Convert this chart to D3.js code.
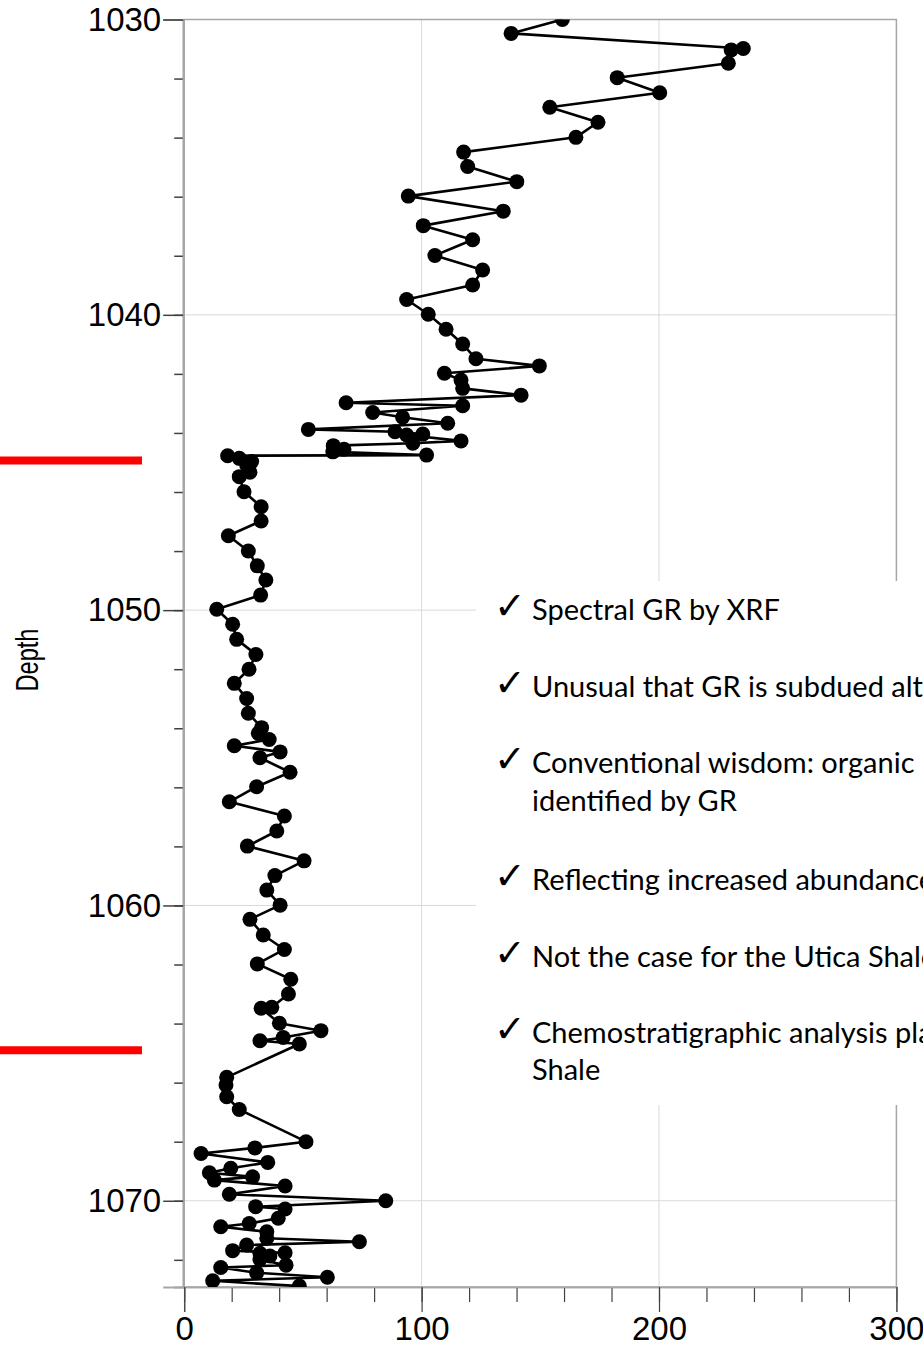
<!DOCTYPE html>
<html>
<head>
<meta charset="utf-8">
<script src="https://cdn.jsdelivr.net/npm/d3@7/dist/d3.min.js"></script>
<style>
  html, body { margin: 0; padding: 0; background: #fff; overflow: hidden; }
  svg { display: block; }
</style>
</head>
<body>
<svg id="chart" width="923" height="1347"></svg>
<script>
// Spectral gamma ray (XRF) versus core depth
const depth = [
  1030.00, 1030.47, 1030.98, 1031.03, 1031.48, 1031.97, 1032.48, 1032.97, 1033.48, 1033.99,
  1034.49, 1034.98, 1035.49, 1035.98, 1036.49, 1036.98, 1037.46, 1037.99, 1038.48, 1038.99,
  1039.48, 1039.98, 1040.49, 1040.99, 1041.49, 1041.73, 1041.98, 1042.21, 1042.49, 1042.72,
  1042.98, 1043.08, 1043.31, 1043.47, 1043.67, 1043.88, 1043.96, 1044.04, 1044.07, 1044.27,
  1044.35, 1044.43, 1044.55, 1044.64, 1044.75, 1044.77, 1044.86, 1044.97, 1045.08, 1045.33,
  1045.48, 1045.99, 1046.50, 1046.98, 1047.48, 1048.00, 1048.50, 1048.98, 1049.49, 1049.97,
  1050.48, 1050.99, 1051.50, 1052.00, 1052.48, 1052.99, 1053.49, 1053.98, 1054.17, 1054.38,
  1054.59, 1054.80, 1055.00, 1055.49, 1055.98, 1056.49, 1056.97, 1057.48, 1057.99, 1058.49,
  1058.99, 1059.48, 1059.99, 1060.47, 1061.00, 1061.49, 1061.98, 1062.50, 1063.00, 1063.45,
  1063.48, 1063.99, 1064.24, 1064.47, 1064.58, 1064.69, 1065.82, 1066.08, 1066.48, 1066.91,
  1068.00, 1068.21, 1068.40, 1068.70, 1068.90, 1069.05, 1069.19, 1069.30, 1069.50, 1069.78,
  1070.00, 1070.20, 1070.28, 1070.59, 1070.77, 1070.88, 1071.05, 1071.27, 1071.39, 1071.50,
  1071.69, 1071.76, 1071.78, 1071.87, 1071.99, 1072.18, 1072.26, 1072.44, 1072.59, 1072.71,
  1072.89
];
const gr = [
  159.3, 137.7, 235.5, 230.4, 229.2, 182.4, 200.3, 154.0, 174.3, 165.0,
  117.7, 119.4, 140.1, 94.4, 134.4, 100.7, 121.5, 105.6, 125.7, 121.5,
  93.7, 102.8, 110.3, 117.3, 122.9, 149.6, 109.6, 116.6, 117.3, 141.9,
  68.2, 117.3, 79.4, 92.0, 111.0, 52.3, 88.8, 100.5, 93.7, 116.6,
  96.3, 62.8, 67.3, 62.6, 102.1, 18.3, 23.2, 28.4, 26.3, 27.7,
  23.2, 25.2, 32.4, 32.4, 18.6, 27.0, 30.8, 34.4, 32.2, 13.7,
  20.4, 22.1, 30.2, 27.3, 21.1, 26.3, 27.0, 32.6, 31.2, 35.8,
  21.1, 40.4, 31.9, 44.6, 30.5, 19.0, 42.2, 39.0, 26.6, 50.5,
  38.2, 34.8, 40.4, 27.7, 33.3, 42.2, 30.8, 44.9, 43.9, 36.9,
  32.4, 40.1, 57.6, 41.7, 31.9, 48.5, 17.9, 17.6, 17.9, 23.2,
  51.3, 29.8, 7.1, 35.2, 19.6, 10.6, 28.8, 12.7, 42.5, 19.0,
  84.9, 30.1, 42.5, 39.6, 27.4, 15.4, 34.8, 34.8, 73.8, 26.3,
  20.4, 42.5, 31.9, 36.1, 31.9, 42.9, 15.4, 30.5, 60.3, 12.0,
  48.5
];

// Formation boundaries marked at the left margin
const boundaries = [1044.93, 1064.90];

// Axis ticks
const depthMajor = [1030, 1040, 1050, 1060, 1070];
const depthMinor = d3.range(1030, 1073, 2);
const grMajor = [0, 100, 200, 300];
const grMinor = d3.range(0, 301, 20);

const axisTitle = "Depth";

const notes = [
  ["Spectral GR by XRF"],
  ["Unusual that GR is subdued although organic rich"],
  ["Conventional wisdom: organic rich shales are", "identified by GR"],
  ["Reflecting increased abundance of uranium"],
  ["Not the case for the Utica Shale"],
  ["Chemostratigraphic analysis places the Utica", "Shale"]
];

const svg = d3.select("#chart");
const plotLeft = 184.2, plotRight = 896.4, plotTop = 19.5, plotBottom = 1287;

const x = d3.scaleLinear().domain([0, 300]).range([plotLeft, plotRight]);
const y = d3.scaleLinear().domain([1030, 1072.92]).range([plotTop, plotBottom]);

const axisFont = "'Liberation Sans', Arial, sans-serif";

// gridlines
const grid = svg.append("g").attr("stroke", "#d9d9d9").attr("stroke-width", 1);
grid.selectAll("line.v").data([100, 200]).join("line")
  .attr("class", "v")
  .attr("x1", d => x(d)).attr("x2", d => x(d))
  .attr("y1", plotTop).attr("y2", plotBottom);
grid.selectAll("line.h").data([1040, 1050, 1060, 1070]).join("line")
  .attr("class", "h")
  .attr("x1", plotLeft).attr("x2", plotRight)
  .attr("y1", d => y(d)).attr("y2", d => y(d));

// plot frame
svg.append("rect")
  .attr("x", plotLeft).attr("y", plotTop)
  .attr("width", plotRight - plotLeft).attr("height", plotBottom - plotTop)
  .attr("fill", "none").attr("stroke", "#a6a6a6").attr("stroke-width", 1.5);

// left axis: minor then major ticks
const yMinor = svg.append("g").attr("transform", `translate(${plotLeft - 1},0)`)
  .call(d3.axisLeft(y).tickValues(depthMinor).tickSize(9).tickFormat(""));
const yMajor = svg.append("g").attr("transform", `translate(${plotLeft - 1},0)`)
  .call(d3.axisLeft(y).tickValues(depthMajor).tickSize(20).tickPadding(2).tickFormat(d3.format("d")));
[yMinor, yMajor].forEach(g => {
  g.select(".domain").attr("stroke", "#a6a6a6").attr("stroke-width", 2);
  g.selectAll(".tick line").attr("stroke", "#404040").attr("stroke-width", 1.5);
});
yMajor.selectAll(".tick text")
  .attr("font-family", axisFont).attr("font-size", 33).attr("fill", "#000");

// bottom axis
const xMinor = svg.append("g").attr("transform", `translate(0,${plotBottom})`)
  .call(d3.axisBottom(x).tickValues(grMinor).tickSize(15).tickFormat(""));
const xMajor = svg.append("g").attr("transform", `translate(0,${plotBottom})`)
  .call(d3.axisBottom(x).tickValues(grMajor).tickSize(25).tickPadding(4.5).tickFormat(d3.format("d")));
[xMinor, xMajor].forEach(g => {
  g.select(".domain").attr("stroke", "#a6a6a6").attr("stroke-width", 1.5);
  g.selectAll(".tick line").attr("stroke", "#404040").attr("stroke-width", 1.2);
});
xMajor.selectAll(".tick text")
  .attr("font-family", axisFont).attr("font-size", 33).attr("fill", "#000");

svg.append("text")
  .attr("transform", "translate(27,660) rotate(-90)")
  .attr("text-anchor", "middle").attr("dominant-baseline", "central")
  .attr("font-family", axisFont).attr("font-size", 31).attr("fill", "#000")
  .attr("textLength", 63).attr("lengthAdjust", "spacingAndGlyphs")
  .text(axisTitle);

// series
svg.append("clipPath").attr("id", "plot-clip")
  .append("rect").attr("x", plotLeft).attr("y", plotTop)
  .attr("width", plotRight - plotLeft).attr("height", plotBottom - plotTop);

const pts = depth.map((d, i) => ({ depth: d, gr: gr[i] }));
const series = svg.append("g").attr("clip-path", "url(#plot-clip)");
series.append("path")
  .datum(pts)
  .attr("fill", "none").attr("stroke", "#000").attr("stroke-width", 2.6)
  .attr("stroke-linejoin", "round")
  .attr("d", d3.line().x(d => x(d.gr)).y(d => y(d.depth)));
series.selectAll("circle").data(pts).join("circle")
  .attr("cx", d => x(d.gr)).attr("cy", d => y(d.depth))
  .attr("r", 7.5).attr("fill", "#000");

// boundary markers
svg.selectAll("line.boundary").data(boundaries).join("line")
  .attr("class", "boundary")
  .attr("x1", 0).attr("x2", 142)
  .attr("y1", d => y(d)).attr("y2", d => y(d))
  .attr("stroke", "#ff0000").attr("stroke-width", 8);

// notes panel
svg.append("rect")
  .attr("x", 476).attr("y", 581).attr("width", 460).attr("height", 524)
  .attr("fill", "#fff");

const noteFont = "Lato, 'Open Sans', sans-serif";
const noteBaselines = [[620], [697], [773, 811], [890], [967], [1043, 1080]];
const noteG = svg.append("g");
notes.forEach((lines, i) => {
  noteG.append("text")
    .attr("x", 494).attr("y", noteBaselines[i][0] - 1)
    .attr("font-family", "'DejaVu Sans', sans-serif").attr("font-size", 38)
    .attr("fill", "#000").text("\u2713");
  lines.forEach((t, j) => {
    noteG.append("text")
      .attr("x", 532).attr("y", noteBaselines[i][j])
      .attr("font-family", noteFont).attr("font-size", 29)
      .attr("fill", "#000").text(t);
  });
});
</script>
</body>
</html>
